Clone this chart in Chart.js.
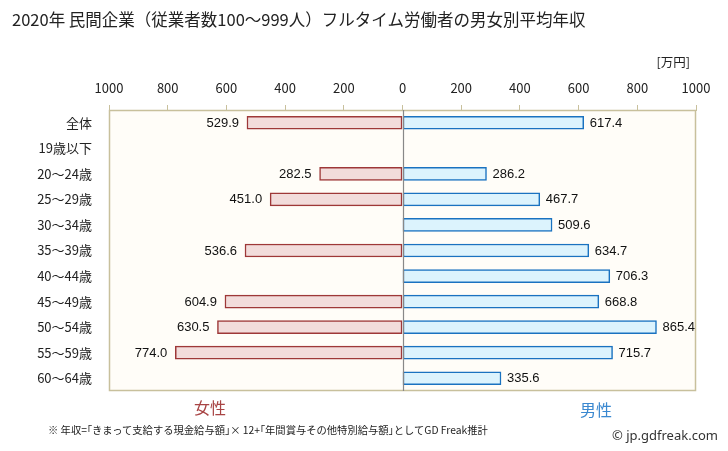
<!DOCTYPE html>
<html><head><meta charset="utf-8">
<script src="https://cdn.jsdelivr.net/npm/chart.js@4"></script>
<style>
html,body{margin:0;padding:0;background:#fff;}
#wrap{position:relative;width:728px;height:451px;overflow:hidden;font-family:"Noto Sans CJK JP",sans-serif;}
canvas{position:absolute;left:0;top:0;}
.t{position:absolute;white-space:nowrap;line-height:1;}
</style></head><body>
<div id="wrap">
<canvas id="c" width="728" height="451"></canvas>
<div class="t" style="left:12px;top:11px;font-size:16.5px;color:#222;">2020年 民間企業（従業者数100～999人）フルタイム労働者の男女別平均年収</div>
<div class="t" style="right:38px;top:56px;font-size:12.5px;color:#222;">[万円]</div>
<div class="t" style="left:194px;top:399px;font-size:16px;color:#a84444;">女性</div>
<div class="t" style="left:580px;top:401px;font-size:16px;color:#3a88d0;">男性</div>
<div class="t" style="left:48px;top:425px;font-size:10.3px;color:#222;">※ 年収=｢きまって支給する現金給与額｣× 12+｢年間賞与その他特別給与額｣としてGD Freak推計</div>
<div class="t" style="left:612px;top:429px;font-size:13px;color:#333;font-family:'Noto Sans',sans-serif;">© jp.gdfreak.com</div>
</div>
<script>
const categories = ["全体","19歳以下","20～24歳","25～29歳","30～34歳","35～39歳","40～44歳","45～49歳","50～54歳","55～59歳","60～64歳"];
const femaleValues = [529.9, null, 282.5, 451.0, null, 536.6, null, 604.9, 630.5, 774.0, null];
const maleValues = [617.4, null, 286.2, 467.7, 509.6, 634.7, 706.3, 668.8, 865.4, 715.7, 335.6];
const xTicks = [-1000,-800,-600,-400,-200,0,200,400,600,800,1000];

const frameColor = "#c8c09c";

const plotBg = {
  id: "plotBg",
  beforeDatasetsDraw(chart){
    const {ctx, chartArea:a} = chart;
    ctx.save();
    ctx.fillStyle = "#fffdf8";
    ctx.fillRect(a.left, a.top, a.right-a.left, a.bottom-a.top);
    ctx.strokeStyle = frameColor;
    ctx.lineWidth = 1.5;
    ctx.strokeRect(a.left+0.5, a.top+0.5, a.right-a.left-1, a.bottom-a.top-1);
    ctx.restore();
  },
  afterDatasetsDraw(chart){
    const {ctx, chartArea:a, scales} = chart;
    const x0 = Math.round(scales.x.getPixelForValue(0)) + 0.5;
    ctx.save();
    ctx.strokeStyle = "#888888";
    ctx.lineWidth = 1.2;
    ctx.beginPath(); ctx.moveTo(x0, a.top); ctx.lineTo(x0, a.bottom); ctx.stroke();
    ctx.font = "13px 'Liberation Sans', Arial, sans-serif";
    ctx.fillStyle = "#111";
    ctx.textBaseline = "middle";
    chart.data.datasets.forEach((ds, di) => {
      const meta = chart.getDatasetMeta(di);
      meta.data.forEach((bar, i) => {
        const v = ds.data[i];
        if (v === null || v === undefined) return;
        const txt = Math.abs(v).toFixed(1);
        if (v < 0) { ctx.textAlign = "right"; ctx.fillText(txt, bar.x - 8, bar.y + 0.5); }
        else { ctx.textAlign = "left"; ctx.fillText(txt, bar.x + 6, bar.y + 0.5); }
      });
    });
    ctx.restore();
  }
};

new Chart(document.getElementById("c"), {
  type: "bar",
  data: {
    labels: categories,
    datasets: [
      { label: "女性", data: femaleValues.map(v => v === null ? null : -v),
        backgroundColor: "#f2dcdb", borderColor: "#9e3838", borderWidth: 1.5, borderSkipped: false,
        grouped: false, barThickness: 13 },
      { label: "男性", data: maleValues,
        backgroundColor: "#dcf3fd", borderColor: "#1a72c0", borderWidth: 1.5, borderSkipped: false,
        grouped: false, barThickness: 13 }
    ]
  },
  options: {
    indexAxis: "y",
    responsive: false,
    animation: false,
    layout: { padding: { left: 0, right: 32, top: 0, bottom: 60 } },
    plugins: { legend: { display: false }, tooltip: { enabled: false }, title: { display: false } },
    scales: {
      x: {
        position: "top",
        min: -1000, max: 1000,
        afterBuildTicks(scale){ scale.ticks = xTicks.map(v => ({ value: v })); },
        afterFit(scale){ scale.height = 110; },
        ticks: { callback: v => String(Math.abs(v)), color: "#222", padding: 9, maxRotation: 0,
                 font: { family: "'Noto Sans CJK JP', sans-serif", size: 13 } },
        grid: { drawOnChartArea: false, tickLength: 5, color: frameColor, lineWidth: 1 },
        border: { display: true, color: frameColor }
      },
      y: {
        afterFit(scale){ scale.width = 109; },
        ticks: { color: "#222", padding: 9, font: { family: "'Noto Sans CJK JP', sans-serif", size: 13 } },
        grid: { display: false },
        border: { display: false }
      }
    }
  },
  plugins: [plotBg]
});
</script>
</body></html>
